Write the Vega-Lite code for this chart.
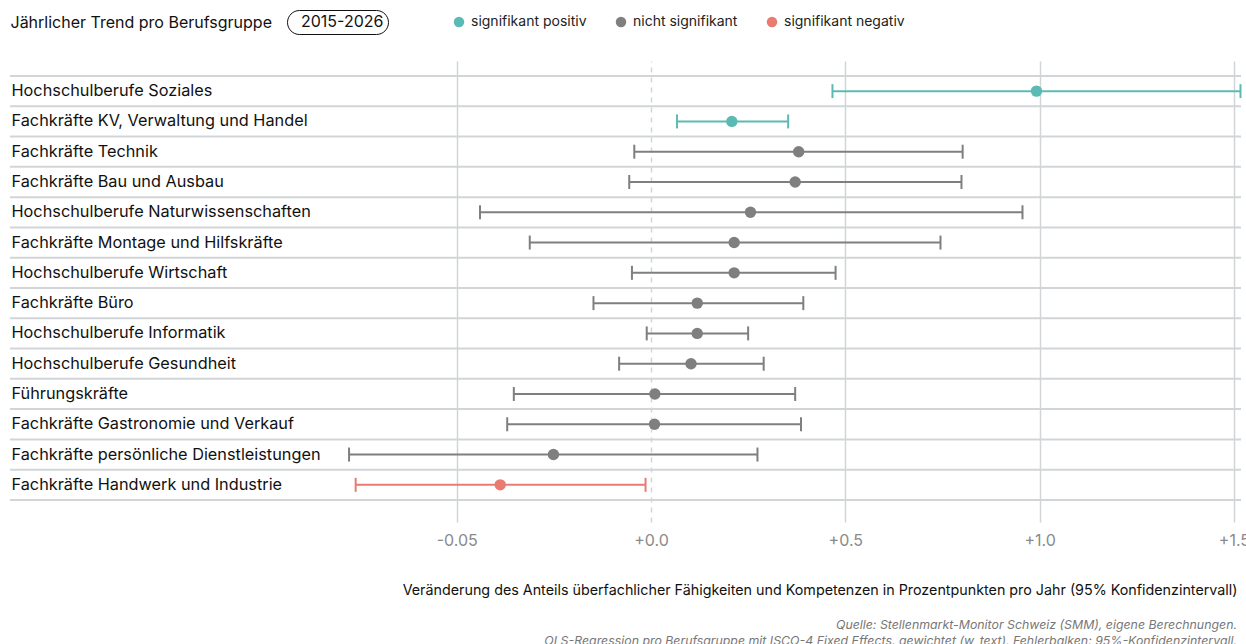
{
  "$schema": "https://vega.github.io/schema/vega-lite/v6.json",
  "width": 1231,
  "height": 461,
  "autosize": {"type": "none"},
  "padding": {"left": 10, "top": 61, "right": 5, "bottom": 122},
  "background": "white",
  "config": {
    "font": "Inter",
    "view": {"stroke": null},
    "title": {"font": "Inter"}
  },
  "title": {
    "text": ["Quelle: Stellenmarkt-Monitor Schweiz (SMM), eigene Berechnungen.", "OLS-Regression pro Berufsgruppe mit ISCO-4 Fixed Effects, gewichtet (w_text). Fehlerbalken: 95%-Konfidenzintervall."],
    "orient": "bottom",
    "anchor": "end",
    "frame": "group",
    "fontStyle": "italic",
    "fontWeight": "normal",
    "fontSize": 12.35,
    "lineHeight": 15.5,
    "color": "#777777",
    "offset": 22,
    "dx": -4
  },
  "data": {
    "values": [
      {"group": "Hochschulberufe Soziales", "est": 0.992, "lo": 0.467, "hi": 1.517, "sig": "signifikant positiv", "period": "2015-2026"},
      {"group": "Fachkräfte KV, Verwaltung und Handel", "est": 0.208, "lo": 0.067, "hi": 0.353, "sig": "signifikant positiv", "period": "2015-2026"},
      {"group": "Fachkräfte Technik", "est": 0.380, "lo": -0.043, "hi": 0.802, "sig": "nicht signifikant", "period": "2015-2026"},
      {"group": "Fachkräfte Bau und Ausbau", "est": 0.371, "lo": -0.056, "hi": 0.799, "sig": "nicht signifikant", "period": "2015-2026"},
      {"group": "Hochschulberufe Naturwissenschaften", "est": 0.256, "lo": -0.440, "hi": 0.956, "sig": "nicht signifikant", "period": "2015-2026"},
      {"group": "Fachkräfte Montage und Hilfskräfte", "est": 0.214, "lo": -0.312, "hi": 0.745, "sig": "nicht signifikant", "period": "2015-2026"},
      {"group": "Hochschulberufe Wirtschaft", "est": 0.214, "lo": -0.049, "hi": 0.475, "sig": "nicht signifikant", "period": "2015-2026"},
      {"group": "Fachkräfte Büro", "est": 0.119, "lo": -0.148, "hi": 0.392, "sig": "nicht signifikant", "period": "2015-2026"},
      {"group": "Hochschulberufe Informatik", "est": 0.119, "lo": -0.011, "hi": 0.250, "sig": "nicht signifikant", "period": "2015-2026"},
      {"group": "Hochschulberufe Gesundheit", "est": 0.103, "lo": -0.082, "hi": 0.290, "sig": "nicht signifikant", "period": "2015-2026"},
      {"group": "Führungskräfte", "est": 0.010, "lo": -0.353, "hi": 0.371, "sig": "nicht signifikant", "period": "2015-2026"},
      {"group": "Fachkräfte Gastronomie und Verkauf", "est": 0.009, "lo": -0.370, "hi": 0.386, "sig": "nicht signifikant", "period": "2015-2026"},
      {"group": "Fachkräfte persönliche Dienstleistungen", "est": -0.251, "lo": -0.777, "hi": 0.274, "sig": "nicht signifikant", "period": "2015-2026"},
      {"group": "Fachkräfte Handwerk und Industrie", "est": -0.388, "lo": -0.760, "hi": -0.014, "sig": "signifikant negativ", "period": "2015-2026"}
    ]
  },
  "encoding": {
    "y": {
      "field": "group",
      "type": "nominal",
      "sort": null,
      "scale": {"paddingInner": 0, "paddingOuter": 0.611, "align": 0.405},
      "axis": {
        "title": "Jährlicher Trend pro Berufsgruppe",
        "titleAngle": 0,
        "titleX": 0,
        "titleY": -39,
        "titleAlign": "left",
        "titleBaseline": "middle",
        "titleFontSize": 16,
        "titleFontWeight": "normal",
        "titleColor": "#111111",
        "domain": false,
        "ticks": false,
        "tickSize": 0,
        "grid": false,
        "labelAlign": "left",
        "labelPadding": -1,
        "labelFontSize": 16.3,
        "labelColor": "#111111",
        "labelLimit": 600
      }
    }
  },
  "layer": [
    {
      "mark": {"type": "rule", "color": "#d2d5d7", "strokeWidth": 2},
      "encoding": {
        "y": {"field": "group", "type": "nominal", "sort": null, "bandPosition": 0}
      }
    },
    {
      "transform": [{"filter": "datum.group === 'Fachkräfte Handwerk und Industrie'"}],
      "mark": {"type": "rule", "color": "#d2d5d7", "strokeWidth": 2},
      "encoding": {
        "y": {"field": "group", "type": "nominal", "sort": null, "bandPosition": 1}
      }
    },
    {
      "mark": {"type": "rule", "strokeWidth": 2},
      "encoding": {
        "x": {
          "field": "lo",
          "type": "quantitative",
          "scale": {"domain": [-1.6495, 1.5183], "nice": false, "zero": false},
          "axis": {
            "values": [-0.5, 0, 0.5, 1, 1.5],
            "labelExpr": "datum.value === -0.5 ? '-0.05' : format(datum.value, '+.1f')",
            "grid": true,
            "gridColor": "#d2d5d7",
            "gridWidth": 1.5,
            "gridDash": {"condition": {"test": "datum.value === 0", "value": [5, 5]}, "value": []},
            "domain": false,
            "ticks": false,
            "tickSize": 0,
            "labelPadding": 10,
            "labelFontSize": 16,
            "labelColor": "#8a8a8a",
            "title": "Veränderung des Anteils überfachlicher Fähigkeiten und Kompetenzen in Prozentpunkten pro Jahr (95% Konfidenzintervall)",
            "titleX": 1227,
            "titleY": 68,
            "titleAlign": "right",
            "titleBaseline": "middle",
            "titleAnchor": null,
            "titleFontSize": 14.3,
            "titleFontWeight": "normal",
            "titleColor": "#111111"
          }
        },
        "x2": {"field": "hi"},
        "color": {"field": "sig", "type": "nominal"}
      }
    },
    {
      "mark": {"type": "tick", "orient": "vertical", "size": 14, "thickness": 2, "opacity": 1},
      "encoding": {
        "x": {"field": "lo", "type": "quantitative"},
        "color": {"field": "sig", "type": "nominal"}
      }
    },
    {
      "mark": {"type": "tick", "orient": "vertical", "size": 14, "thickness": 2, "opacity": 1},
      "encoding": {
        "x": {"field": "hi", "type": "quantitative"},
        "color": {"field": "sig", "type": "nominal"}
      }
    },
    {
      "mark": {"type": "point", "filled": true, "size": 130, "opacity": 1},
      "encoding": {
        "x": {"field": "est", "type": "quantitative"},
        "color": {
          "field": "sig",
          "type": "nominal",
          "scale": {
            "domain": ["signifikant positiv", "nicht signifikant", "signifikant negativ"],
            "range": ["#5bbbb4", "#7f7f7f", "#e97b70"]
          },
          "legend": {
            "title": null,
            "orient": "none",
            "direction": "horizontal",
            "legendX": 442,
            "legendY": -46,
            "symbolType": "circle",
            "symbolSize": 110,
            "symbolStrokeWidth": 0,
            "labelFontSize": 14,
            "labelColor": "#222222",
            "labelOffset": 5,
            "columnPadding": 27,
            "padding": 0
          }
        },
        "shape": {
          "field": "period",
          "type": "nominal",
          "scale": {"range": ["circle"]},
          "legend": {
            "title": null,
            "orient": "none",
            "legendX": 277,
            "legendY": -51,
            "symbolSize": 0,
            "symbolOpacity": 0,
            "symbolStrokeWidth": 0,
            "labelOffset": -6,
            "labelFontSize": 16,
            "labelColor": "#111111",
            "strokeColor": "#111111",
            "cornerRadius": 12,
            "padding": 4
          }
        }
      }
    }
  ]
}
